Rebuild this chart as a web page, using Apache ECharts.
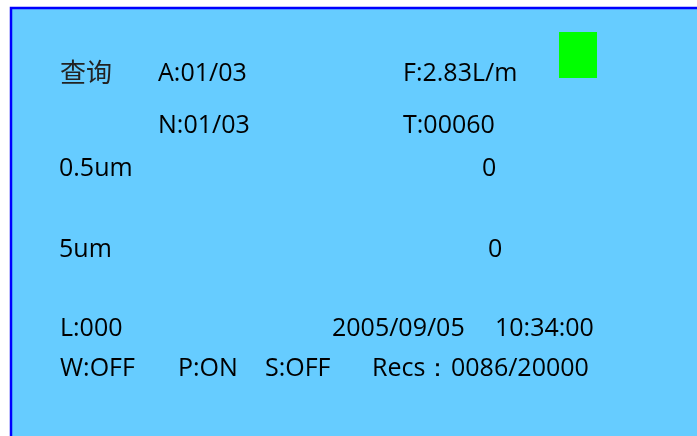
<!DOCTYPE html>
<html>
<head>
    <meta charset="UTF-8">
    <title>panel</title>
    <script src="https://cdn.jsdelivr.net/npm/echarts@6/dist/echarts.min.js"></script>
    <style>
        *{margin:0;padding:0}
        html,body{width:100%;height:100%;background:#fff}
        #main{width:697px;height:436px}
    </style>
</head>
<body>
    <div id="main"></div>
    <script type="text/javascript">
        // 屏幕显示内容
        var mode = '查询';
        var topFields = [['A', '01/03'], ['F', '2.83L/m'], ['N', '01/03'], ['T', '00060']];
        var sizeNames = ['0.5um', '5um'];
        var sizeCounts = [0, 0];
        var lineNo = ['L', '000'];
        var dateText = '2005/09/05';
        var timeText = '10:34:00';
        var switches = [['W', 'OFF'], ['P', 'ON'], ['S', 'OFF']];
        var recs = ['0086', '20000'];

        var latin = '25px "Open Sans", sans-serif';
        var myChart = echarts.init(document.getElementById('main'));

        function txt(s, x, y, font, color) {
            return {
                type: 'text', x: x, y: y,
                style: {text: s, font: font || latin, fill: color || '#000', verticalAlign: 'middle'}
            };
        }

        // 每个字段的位置
        var topPos = [[158, 74], [403, 74], [158, 126], [403, 126]];
        var switchX = [60, 178, 265];

        var els = [
            {type: 'rect', shape: {x: 11, y: 8, width: 720, height: 460},
             style: {fill: '#66CCFF', stroke: '#0000FF', lineWidth: 2.5}},
            {type: 'rect', shape: {x: 559, y: 32, width: 38, height: 46}, style: {fill: '#00FF00'}},
            txt(mode, 60, 72, '26px "Noto Sans CJK SC"', '#222')
        ];
        topFields.forEach(function (f, i) {
            els.push(txt(f[0] + ':' + f[1], topPos[i][0], topPos[i][1]));
        });
        var rowY = [169, 250], countX = [482, 488];
        sizeNames.forEach(function (n, i) {
            els.push(txt(n, 59, rowY[i]));
            els.push(txt(String(sizeCounts[i]), countX[i], rowY[i]));
        });
        els.push(txt(lineNo[0] + ':' + lineNo[1], 60, 329));
        els.push(txt(dateText, 332, 329));
        els.push(txt(timeText, 495, 329));
        switches.forEach(function (s, i) {
            els.push(txt(s[0] + ':' + s[1], switchX[i], 369));
        });
        els.push(txt('Recs：', 372, 369));
        els.push(txt(recs[0] + '/' + recs[1], 451, 369));

        myChart.setOption({
            animation: false,
            graphic: {elements: els}
        });
    </script>
</body>
</html>
